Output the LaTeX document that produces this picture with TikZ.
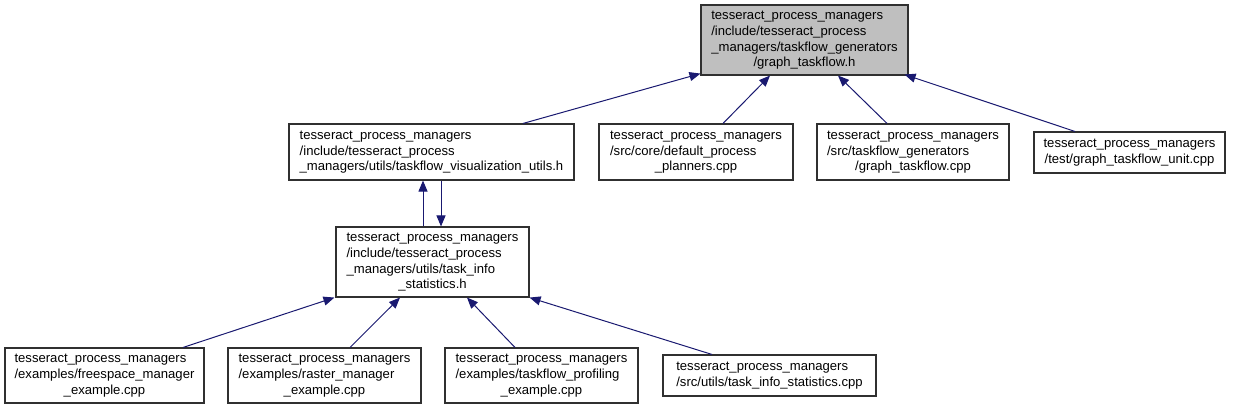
\documentclass[tikz,border=0pt]{standalone}
\usepackage{fontspec}
\setmainfont{Liberation Sans}
\usetikzlibrary{arrows.meta,calc}
\definecolor{edgeblue}{HTML}{191970}
\definecolor{boxline}{HTML}{303030}
\definecolor{topfill}{HTML}{BFBFBF}
\newcommand{\dlab}[2]{\begin{tabular}{@{}l@{}}#1\\\multicolumn{1}{@{}c@{}}{#2}\end{tabular}}
\begin{document}
\begin{tikzpicture}[x=1pt,y=-1pt,
  filebox/.style={draw=boxline,line width=1.1pt,fill=white,inner sep=0pt,
    font=\fontsize{13.1}{15.8}\selectfont},
  edge/.style={draw=edgeblue,line width=1pt,-{Triangle[length=11pt,width=9pt]}}]
\useasboundingbox (0,0) rectangle (1233,408);
\renewcommand{\arraystretch}{1}
\node[filebox,fill=topfill,minimum width=207pt,minimum height=70pt] (top) at (804.5,40)
  {\dlab{tesseract\_process\_managers\\/include/tesseract\_process\\\_managers/taskflow\_generators}{/graph\_taskflow.h}};
\node[filebox,minimum width=285pt,minimum height=56pt] (a) at (431.5,152)
  {\dlab{tesseract\_process\_managers\\/include/tesseract\_process}{\_managers/utils/taskflow\_visualization\_utils.h}};
\node[filebox,minimum width=194pt,minimum height=56pt] (b) at (696,152)
  {\dlab{tesseract\_process\_managers\\/src/core/default\_process}{\_planners.cpp}};
\node[filebox,minimum width=192pt,minimum height=56pt] (c) at (913,152)
  {\dlab{tesseract\_process\_managers\\/src/taskflow\_generators}{/graph\_taskflow.cpp}};
\node[filebox,minimum width=191pt,minimum height=41pt] (d) at (1129.5,152.5)
  {\dlab{tesseract\_process\_managers}{/test/graph\_taskflow\_unit.cpp}};
\node[filebox,minimum width=193pt,minimum height=70pt] (e) at (432.5,262)
  {\dlab{tesseract\_process\_managers\\/include/tesseract\_process\\\_managers/utils/task\_info}{\_statistics.h}};
\node[filebox,minimum width=199pt,minimum height=55pt] (f) at (104.5,375.5)
  {\dlab{tesseract\_process\_managers\\/examples/freespace\_manager}{\_example.cpp}};
\node[filebox,minimum width=193pt,minimum height=55pt] (g) at (324.5,375.5)
  {\dlab{tesseract\_process\_managers\\/examples/raster\_manager}{\_example.cpp}};
\node[filebox,minimum width=193pt,minimum height=55pt] (h) at (541.5,375.5)
  {\dlab{tesseract\_process\_managers\\/examples/taskflow\_profiling}{\_example.cpp}};
\node[filebox,minimum width=213pt,minimum height=41pt] (i) at (769.5,375.5)
  {\dlab{tesseract\_process\_managers}{/src/utils/task\_info\_statistics.cpp}};
% edges
\draw[edge] ([xshift=91.5pt]a.north) -- ([yshift=2pt]top.south west);
\draw[edge] ([xshift=27pt]b.north) -- ([xshift=-34.5pt]top.south);
\draw[edge] ([xshift=-26pt]c.north) -- ([xshift=33.5pt]top.south);
\draw[edge] ([xshift=-54.5pt]d.north) -- ([xshift=-4pt,yshift=1pt]top.south east);
\draw[edge] ([xshift=-9.5pt]e.north) -- ([xshift=-9.5pt]e.north |- a.south);
\draw[edge] ([xshift=9.5pt]a.south) -- ([xshift=9.5pt]a.south |- e.north);
\draw[edge] ([xshift=78.5pt]f.north) -- ([xshift=-1pt]e.south west);
\draw[edge] ([xshift=25.5pt]g.north) -- ([xshift=-32.5pt]e.south);
\draw[edge] ([xshift=-26.5pt]h.north) -- ([xshift=34.5pt]e.south);
\draw[edge] ([xshift=-57.5pt]i.north) -- (e.south east);
\end{tikzpicture}
\end{document}
